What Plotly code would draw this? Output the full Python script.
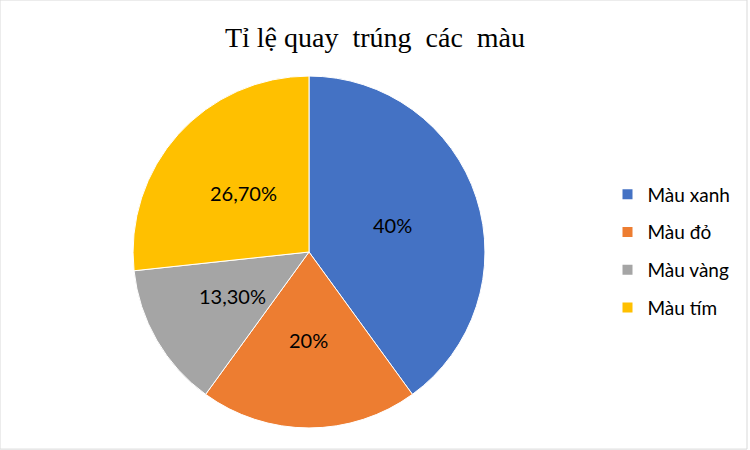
import numpy as np
import plotly.graph_objects as go

labels = ["Màu xanh", "Màu đỏ", "Màu vàng", "Màu tím"]
values = [40, 20, 13.3, 26.7]
text_labels = ["40%", "20%", "13,30%", "26,70%"]
colors = ["#4472C4", "#ED7D31", "#A5A5A5", "#FFC000"]

W, H = 750, 450
dom_x = [0.177, 0.647]
dom_y = [0.049, 0.831]

fig = go.Figure()

fig.add_trace(go.Pie(
    labels=labels,
    values=values,
    textinfo="none",
    marker=dict(colors=colors, line=dict(color="#FFFFFF", width=1)),
    sort=False,
    direction="clockwise",
    rotation=0,
    showlegend=False,
    hoverinfo="label+percent",
    domain=dict(x=dom_x, y=dom_y),
))

# Excel style labels: halfway out along each slice's middle angle
radius_px = min((dom_x[1] - dom_x[0]) * W, (dom_y[1] - dom_y[0]) * H) / 2
cx, cy = sum(dom_x) / 2, sum(dom_y) / 2
frac = np.array(values) / sum(values)
mid = np.cumsum(frac) - frac / 2
ang = mid * 2 * np.pi
annotations = []
for t, a in zip(text_labels, ang):
    annotations.append(dict(
        x=cx + 0.5 * radius_px * np.sin(a) / W,
        y=cy + 0.5 * radius_px * np.cos(a) / H,
        xref="paper", yref="paper", xanchor="center", yanchor="middle",
        text=t, showarrow=False,
        font=dict(family="Lato", size=20, color="#000000"),
    ))

# legend entries as separate traces so the spacing can match
for name, c in zip(labels, colors):
    fig.add_trace(go.Scatter(
        x=[None], y=[None], mode="markers", name=name,
        legendgroup=name,
        marker=dict(symbol="square", size=10, color=c),
    ))

fig.update_layout(
    width=W, height=H,
    margin=dict(l=0, r=0, t=0, b=0),
    paper_bgcolor="#FFFFFF",
    plot_bgcolor="#FFFFFF",
    title=dict(text="Tỉ lệ quay  trúng  các  màu", x=0.5, xanchor="center",
               y=1 - 37 / 450, yanchor="middle",
               font=dict(family="Liberation Serif", size=28, color="#000000")),
    xaxis=dict(visible=False),
    yaxis=dict(visible=False),
    legend=dict(x=0.81, xanchor="left", y=1 - 251 / 450, yanchor="middle",
                font=dict(family="Lato", size=19, color="#000000"),
                tracegroupgap=10, itemwidth=30),
    annotations=annotations,
    shapes=[dict(type="rect", xref="paper", yref="paper", x0=0, y0=0.002, x1=0.996, y1=1,
                 line=dict(color="#D9D9D9", width=1))],
)

fig.write_html("out.html", config={"displayModeBar": False},
               post_script="document.body.style.margin='0';")
